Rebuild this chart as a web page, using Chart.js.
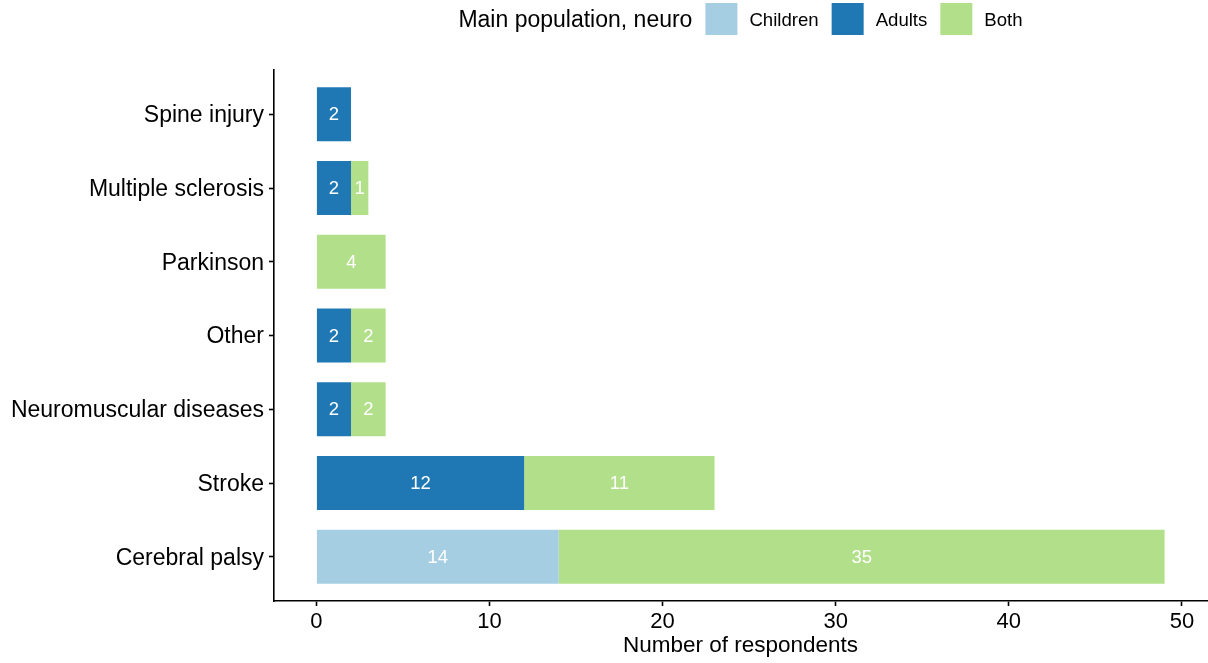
<!DOCTYPE html>
<html>
<head>
<meta charset="utf-8">
<script src="https://cdn.jsdelivr.net/npm/chart.js@4"></script>
<style>
  body { margin: 0; background: #fff; }
</style>
</head>
<body>
<canvas id="neuroChart" width="1208" height="663"></canvas>
<script>
// stacked bar of neuro conditions by main population
const categories = ["Spine injury", "Multiple sclerosis", "Parkinson", "Other", "Neuromuscular diseases", "Stroke", "Cerebral palsy"];
const children = [0, 0, 0, 0, 0, 0, 14];
const adults = [2, 2, 0, 2, 2, 12, 0];
const both = [0, 1, 4, 2, 2, 11, 35];
const xTicks = [0, 10, 20, 30, 40, 50];

const legendTitle = "Main population, neuro";
const fontFamily = "'Liberation Sans', Arial, sans-serif";

const toPoints = (arr) => arr.map((v, i) => ({ x: v, y: i }));

// ggplot style legend: title inline with the keys, centred on the panel
const inlineLegend = {
  id: "inlineLegend",
  afterDraw(chart) {
    const c = chart.ctx;
    const area = chart.chartArea;
    const box = 32;
    c.save();
    c.textBaseline = "middle";
    c.font = `23px ${fontFamily}`;
    const titleW = c.measureText(legendTitle).width;
    c.font = `18.6px ${fontFamily}`;
    const items = chart.data.datasets.map(ds => ({
      label: ds.label, color: ds.backgroundColor, w: c.measureText(ds.label).width
    }));
    let total = titleW;
    items.forEach(it => { total += 13 + box + 12 + it.w; });
    let x = (area.left + area.right) / 2 - total / 2;
    const cy = 19;
    c.fillStyle = "#000";
    c.font = `23px ${fontFamily}`;
    c.fillText(legendTitle, x, cy + 1.5);
    x += titleW;
    c.font = `18.6px ${fontFamily}`;
    items.forEach(it => {
      x += 13;
      c.fillStyle = it.color;
      c.fillRect(x, cy - box / 2, box, box);
      x += box + 12;
      c.fillStyle = "#000";
      c.fillText(it.label, x, cy + 1.5);
      x += it.w;
    });
    c.restore();
  }
};

// white value labels in the middle of each segment
const barLabels = {
  id: "barLabels",
  afterDatasetsDraw(chart) {
    const c = chart.ctx;
    c.save();
    c.fillStyle = "#fff";
    c.font = `18.5px ${fontFamily}`;
    c.textAlign = "center";
    c.textBaseline = "middle";
    chart.data.datasets.forEach((ds, di) => {
      chart.getDatasetMeta(di).data.forEach((bar, i) => {
        const v = ds.data[i].x;
        if (!v) return;
        const p = bar.getCenterPoint();
        c.fillText(String(v), p.x, p.y + 1);
      });
    });
    c.restore();
  }
};

const ctx = document.getElementById("neuroChart");

new Chart(ctx, {
  type: "bar",
  data: {
    datasets: [
      { label: "Children", data: toPoints(children), backgroundColor: "#a6cee3" },
      { label: "Adults", data: toPoints(adults), backgroundColor: "#1f78b4" },
      { label: "Both", data: toPoints(both), backgroundColor: "#b2df8a" }
    ]
  },
  options: {
    indexAxis: "y",
    responsive: false,
    animation: false,
    categoryPercentage: 1,
    barPercentage: 0.73,
    layout: { padding: { top: 70, right: 1, left: 0, bottom: 0 } },
    plugins: {
      legend: { display: false },
      tooltip: { enabled: false }
    },
    scales: {
      x: {
        type: "linear",
        stacked: true,
        min: -2.45,
        max: 51.45,
        afterBuildTicks: axis => { axis.ticks = xTicks.map(v => ({ value: v })); },
        afterFit: scale => { scale.height = 62; },
        border: { display: true, color: "#000", width: 1.6 },
        grid: { drawOnChartArea: false, drawTicks: true, tickLength: 5, color: "#000", tickWidth: 1.6 },
        ticks: { color: "#000", padding: 3, font: { family: fontFamily, size: 22 } },
        title: {
          display: true, text: "Number of respondents", color: "#000",
          font: { family: fontFamily, size: 22.5 }, padding: { top: 3 }
        }
      },
      y: {
        type: "linear",
        stacked: true,
        reverse: true,
        offset: false,
        min: -0.6,
        max: 6.6,
        afterBuildTicks: axis => { axis.ticks = categories.map((c, i) => ({ value: i })); },
        afterFit: scale => { scale.width = 274; },
        border: { display: true, color: "#000", width: 1.6 },
        grid: { offset: false, drawOnChartArea: false, drawTicks: true, tickLength: 5, color: "#000", tickWidth: 1.6 },
        ticks: {
          color: "#000", padding: 5, labelOffset: 1.5,
          font: { family: fontFamily, size: 23 },
          callback: v => categories[v]
        }
      }
    }
  },
  plugins: [inlineLegend, barLabels]
});
</script>
</body>
</html>
